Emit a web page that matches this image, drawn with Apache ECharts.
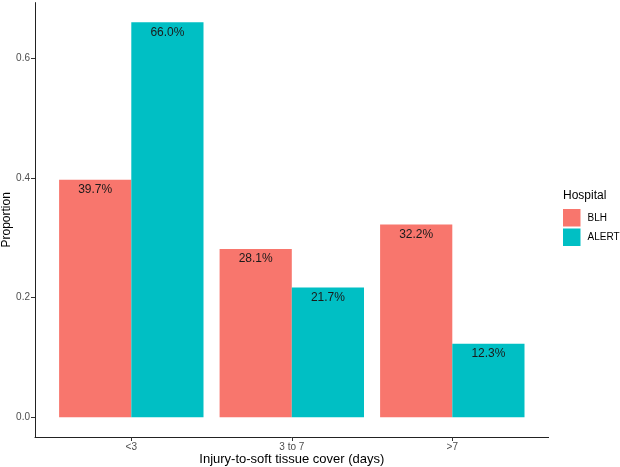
<!DOCTYPE html>
<html>
<head>
<meta charset="utf-8">
<script src="https://cdn.jsdelivr.net/npm/echarts@6/dist/echarts.min.js"></script>
<style>html,body{margin:0;padding:0;background:#fff}#c{width:620px;height:467px}</style>
</head>
<body>
<div id="c"></div>
<script>
const categories = ['<3', '3 to 7', '>7'];
const seriesNames = ['BLH', 'ALERT'];
const blh = [0.397, 0.281, 0.322];
const alert = [0.660, 0.217, 0.123];
const yTicks = [0, 0.2, 0.4, 0.6];
const colors = ['#F8766D', '#00BFC4'];

const chart = echarts.init(document.getElementById('c'));
const font = 'Liberation Sans, Arial, sans-serif';
const yMin = -0.033, yMax = 0.693;
function mk(name, vals, color) {
  return {
    name: name, type: 'bar', xAxisIndex: 1, yAxisIndex: 1,
    barWidth: 72.2, barGap: '0%',
    itemStyle: { color: color },
    data: vals,
    label: {
      show: true, position: 'insideTop', distance: 4,
      color: '#1a1a1a', fontSize: 12, fontFamily: font,
      formatter: p => (p.value * 100).toFixed(1) + '%'
    }
  };
}
chart.setOption({
  animation: false,
  grid: [
    { left: 35, right: 71.4, top: 2.6, bottom: 30, containLabel: false, outerBoundsMode: 'none' },
    { left: 51.05, right: 87.45, top: 2.6, bottom: 30, containLabel: false, outerBoundsMode: 'none' }
  ],
  title: { text: 'Hospital', left: 563, top: 190, padding: 0, textStyle: { fontSize: 12, fontWeight: 'normal', color: '#000', fontFamily: font } },
  legend: {
    data: seriesNames, orient: 'vertical', left: 563, top: 209, padding: 0, itemWidth: 17.5, itemHeight: 17.5, itemGap: 2,
    icon: 'rect', textStyle: { fontSize: 10, color: '#000', fontFamily: font, padding: [0, 0, 0, 2] }
  },
  xAxis: [
    {
      gridIndex: 0, type: 'value', min: 0, max: 1,
      axisLine: { show: true, onZero: false, lineStyle: { color: '#222', width: 1 } },
      axisTick: { show: false }, axisLabel: { show: false }, splitLine: { show: false }
    },
    {
      gridIndex: 1, type: 'category', data: categories,
      name: 'Injury-to-soft tissue cover (days)', nameLocation: 'middle', nameGap: 16, nameMoveOverlap: false,
      nameTextStyle: { fontSize: 13, color: '#000', fontFamily: font },
      axisLine: { show: false, onZero: false },
      axisTick: { show: true, alignWithLabel: true, length: 4, lineStyle: { color: '#333' } },
      axisLabel: { fontSize: 10, color: '#4d4d4d', margin: 5, fontFamily: font },
      splitLine: { show: false }
    }
  ],
  yAxis: [
    {
      gridIndex: 0, type: 'value', min: yMin, max: yMax,
      name: 'Proportion', nameLocation: 'middle', nameGap: 22, nameRotate: 90, nameMoveOverlap: false,
      nameTextStyle: { fontSize: 12, color: '#000', fontFamily: font },
      axisLine: { show: true, onZero: false, lineStyle: { color: '#222', width: 1 } },
      axisTick: { show: true, customValues: yTicks, length: 4, lineStyle: { color: '#333' } },
      axisLabel: { customValues: yTicks, formatter: v => v.toFixed(1), fontSize: 10, color: '#4d4d4d', margin: 5, fontFamily: font },
      splitLine: { show: false }
    },
    {
      gridIndex: 1, type: 'value', min: yMin, max: yMax, show: false,
      splitLine: { show: false }
    }
  ],
  series: [mk(seriesNames[0], blh, colors[0]), mk(seriesNames[1], alert, colors[1])]
});
</script>
</body>
</html>
